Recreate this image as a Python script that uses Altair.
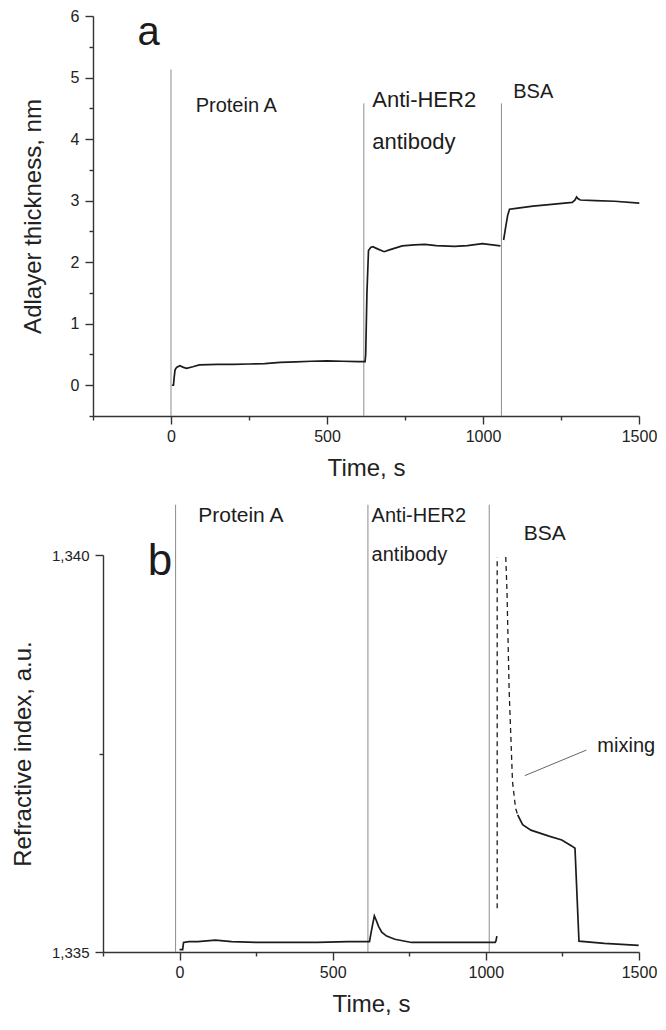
import altair as alt
import pandas as pd

FONT = "Liberation Sans"
INK = "#1c1c1c"
GUIDE = "#8c8c8c"

# ---------------- panel a : adlayer thickness ----------------
a_seg1_time = [3, 8, 10, 13, 18, 28, 40, 50, 70, 91, 150, 200, 250, 300, 350, 400, 450, 500,
               550, 600, 622, 624, 628, 633, 640, 647, 660, 683, 700, 741, 780, 814, 850, 909,
               950, 998, 1030, 1056]
a_seg1_thick = [0.0, 0.0, 0.12, 0.25, 0.29, 0.316, 0.29, 0.275, 0.30, 0.33, 0.34, 0.34, 0.345,
                0.35, 0.37, 0.38, 0.39, 0.395, 0.39, 0.385, 0.385, 0.5, 1.5, 2.19, 2.24, 2.25,
                2.22, 2.17, 2.2, 2.265, 2.28, 2.29, 2.27, 2.255, 2.27, 2.3, 2.28, 2.265]
a_seg2_time = [1066, 1072, 1079, 1085, 1100, 1160, 1220, 1286, 1295, 1300, 1305, 1312, 1360, 1422, 1501]
a_seg2_thick = [2.36, 2.55, 2.76, 2.86, 2.87, 2.91, 2.94, 2.97, 3.01, 3.06, 3.03, 3.01, 3.0, 2.99, 2.96]

a_rule_time = [0, 618, 1059]
a_rule_top = [5.13, 4.58, 4.58]

a_label_text = ["Protein A", "Anti-HER2", "antibody", "BSA"]
a_label_time = [79, 645, 645, 1097]
a_label_value = [4.545, 4.64, 3.96, 4.76]
a_label_size = [20, 22, 22, 20]

a_letter = ["a"]
a_letter_time = [-72]
a_letter_value = [5.53]

a_y_ticks = [-0.5, 0, 0.5, 1, 1.5, 2, 2.5, 3, 3.5, 4, 4.5, 5, 5.5, 6]

# ---------------- panel b : refractive index ----------------
b_seg1_time = [0, 10, 13, 30, 60, 117, 170, 250, 350, 450, 550, 612, 620, 628, 636, 642, 650,
               660, 676, 703, 757, 850, 950, 1030, 1033, 1036]
b_seg1_ri = [1.33503, 1.33503, 1.33512, 1.33513, 1.33513, 1.33515, 1.33513, 1.33512, 1.33512,
             1.33512, 1.33513, 1.33513, 1.33513, 1.33530, 1.335455, 1.33540, 1.33532, 1.33525,
             1.33520, 1.33516, 1.33512, 1.33512, 1.33512, 1.33512, 1.33514, 1.33520]
b_seg2_time = [1104, 1120, 1147, 1206, 1248, 1280, 1291, 1304, 1387, 1499]
b_seg2_ri = [1.336728, 1.336604, 1.336535, 1.336460, 1.336411, 1.336336, 1.336306, 1.335136,
             1.335108, 1.335083]
b_dash1_time = [1037, 1037]
b_dash1_ri = [1.33555, 1.339975]
b_dash2_time = [1065, 1069, 1076, 1087, 1097, 1104]
b_dash2_ri = [1.339975, 1.339541, 1.338300, 1.337146, 1.336811, 1.336728]

b_rule_time = [-13, 615, 1011]
b_rule_top = [1.340633, 1.340633, 1.340633]

b_label_text = ["Protein A", "Anti-HER2", "antibody", "BSA", "mixing"]
b_label_time = [61, 627, 627, 1124, 1364]
b_label_value = [1.340496, 1.340496, 1.340, 1.340261, 1.337593]
b_label_size = [21, 20, 20, 21, 20]

b_letter = ["b"]
b_letter_time = [-64]
b_letter_value = [1.339752]

b_leader_time = [1127]
b_leader_time2 = [1328]
b_leader_ri = [1.337221]
b_leader_ri2 = [1.337543]

b_y_ticks = [1.335, 1.3375, 1.340]

x_ticks = [-250, 0, 250, 500, 750, 1000, 1250, 1500]

PLOT_W = 546


def seg_frame(times, values, seg):
    return pd.DataFrame({"t": times, "v": values, "seg": seg})


def x_axis():
    return alt.Axis(
        title="Time, s", values=x_ticks,
        labelExpr="datum.value % 500 === 0 ? '' + datum.value : ''",
        tickSize={"condition": {"test": "datum.value % 500 === 0", "value": 8}, "value": 4},
        labelPadding=4, labelFontSize=16, titleFontSize=24, titlePadding=12,
        grid=False, labelFlush=False, labelOverlap=False,
    )


# ---- panel a ----
xa = alt.X("t:Q", scale=alt.Scale(domain=[-250, 1500], nice=False, zero=False), axis=x_axis())
ya_scale = alt.Scale(domain=[-0.5, 6], nice=False, zero=False)
ya_axis = alt.Axis(
    title="Adlayer thickness, nm", values=a_y_ticks,
    labelExpr="datum.value % 1 === 0 ? '' + datum.value : ''",
    tickSize={"condition": {"test": "datum.value % 1 === 0", "value": 8}, "value": 4},
    labelPadding=6, labelFontSize=16, titleFontSize=24, titlePadding=25,
    grid=False, labelFlush=False, labelOverlap=False,
)
ya = alt.Y("v:Q", scale=ya_scale, axis=ya_axis)

df_a_line = pd.concat([seg_frame(a_seg1_time, a_seg1_thick, "s1"),
                       seg_frame(a_seg2_time, a_seg2_thick, "s2")])
df_a_rule = pd.DataFrame({"t": a_rule_time, "v": [-0.5] * len(a_rule_time), "v2": a_rule_top})
df_a_lab = pd.DataFrame({"t": a_label_time, "v": a_label_value, "label": a_label_text, "fs": a_label_size})
df_a_let = pd.DataFrame({"t": a_letter_time, "v": a_letter_value, "label": a_letter})

a_rules = alt.Chart(df_a_rule).mark_rule(color=GUIDE, strokeWidth=1).encode(x=xa, y=ya, y2="v2:Q")
a_line = alt.Chart(df_a_line).mark_line(color=INK, strokeWidth=1.7).encode(x=xa, y=ya, detail="seg:N")
a_text = alt.Chart(df_a_lab).mark_text(align="left", baseline="middle", font=FONT, color=INK).encode(
    x=xa, y=ya, text="label:N", size=alt.Size("fs:Q", scale=None))
a_let = alt.Chart(df_a_let).mark_text(align="center", baseline="alphabetic", font=FONT, color=INK,
                                      fontSize=40).encode(x=xa, y=ya, text="label:N")

panel_a = alt.layer(a_rules, a_line, a_text, a_let).properties(width=PLOT_W, height=400)

# ---- panel b ----
xb = alt.X("t:Q", scale=alt.Scale(domain=[-250, 1500], range=[10, PLOT_W], nice=False, zero=False),
           axis=x_axis())
yb_scale = alt.Scale(domain=[1.335, 1.340], nice=False, zero=False)
yb_axis = alt.Axis(
    title="Refractive index, a.u.", values=b_y_ticks,
    labelExpr="abs(datum.value - 1.3375) < 0.0001 ? '' : replace(format(datum.value, '.3f'), '.', ',')",
    tickSize={"condition": {"test": "abs(datum.value - 1.3375) > 0.0001", "value": 8}, "value": 4},
    labelPadding=6, labelFontSize=15, titleFontSize=24, titlePadding=16, offset=-10,
    grid=False, labelFlush=False, labelOverlap=False,
)
yb = alt.Y("v:Q", scale=yb_scale, axis=yb_axis)

df_b_line = pd.concat([seg_frame(b_seg1_time, b_seg1_ri, "s1"),
                       seg_frame(b_seg2_time, b_seg2_ri, "s2")])
df_b_dash = pd.concat([seg_frame(b_dash1_time, b_dash1_ri, "d1"),
                       seg_frame(b_dash2_time, b_dash2_ri, "d2")])
df_b_rule = pd.DataFrame({"t": b_rule_time, "v": [1.335] * len(b_rule_time), "v2": b_rule_top})
df_b_lab = pd.DataFrame({"t": b_label_time, "v": b_label_value, "label": b_label_text, "fs": b_label_size})
df_b_let = pd.DataFrame({"t": b_letter_time, "v": b_letter_value, "label": b_letter})
df_b_lead = pd.DataFrame({"t": b_leader_time, "t2": b_leader_time2, "v": b_leader_ri, "v2": b_leader_ri2})

b_rules = alt.Chart(df_b_rule).mark_rule(color=GUIDE, strokeWidth=1).encode(x=xb, y=yb, y2="v2:Q")
b_line = alt.Chart(df_b_line).mark_line(color=INK, strokeWidth=1.7).encode(x=xb, y=yb, detail="seg:N")
b_dash = alt.Chart(df_b_dash).mark_line(color=INK, strokeWidth=1.3, strokeDash=[5, 4]).encode(
    x=xb, y=yb, detail="seg:N")
b_lead = alt.Chart(df_b_lead).mark_rule(color="#555555", strokeWidth=0.9).encode(
    x=xb, x2="t2:Q", y=yb, y2="v2:Q")
b_text = alt.Chart(df_b_lab).mark_text(align="left", baseline="middle", font=FONT, color=INK).encode(
    x=xb, y=yb, text="label:N", size=alt.Size("fs:Q", scale=None))
b_let = alt.Chart(df_b_let).mark_text(align="center", baseline="alphabetic", font=FONT, color=INK,
                                      fontSize=44).encode(x=xb, y=yb, text="label:N")

panel_b = alt.layer(b_rules, b_dash, b_line, b_lead, b_text, b_let).properties(width=PLOT_W, height=397)

chart = alt.vconcat(panel_a, panel_b, spacing=24).properties(
    padding={"left": 3, "top": 0, "right": 0, "bottom": 0}
).configure(font=FONT).configure_view(stroke=None).configure_axis(
    domainColor="#333333", domainWidth=1.4, tickColor="#333333", tickWidth=1.4,
    labelColor="#222222", titleColor="#222222", titleFontWeight="normal",
    labelFont=FONT, titleFont=FONT,
)

chart.save("out.html", embed_options={"renderer": "svg", "actions": False})
